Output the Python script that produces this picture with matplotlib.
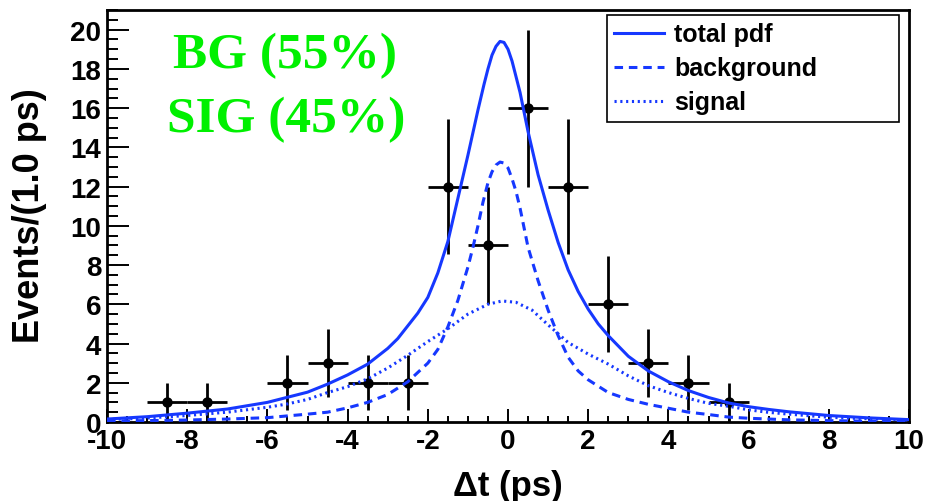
import matplotlib
matplotlib.use("Agg")
import matplotlib.pyplot as plt
from matplotlib.ticker import MultipleLocator

plt.rcParams["axes.unicode_minus"] = False

# binned data (1 ps bins), empty bins left out
bin_centers = [-8.5, -7.5, -5.5, -4.5, -3.5, -2.5, -1.5, -0.5, 0.5, 1.5, 2.5, 3.5, 4.5, 5.5]
counts = [1, 1, 2, 3, 2, 2, 12, 9, 16, 12, 6, 3, 2, 1]
count_err = [1.0, 1.0, 1.41, 1.73, 1.41, 1.41, 3.46, 3.0, 4.0, 3.46, 2.45, 1.73, 1.41, 1.0]

# fitted curves
t_total = [-10, -9, -8, -7, -6, -5, -4.5, -4, -3.5, -3, -2.75, -2.5, -2.25, -2, -1.75, -1.5,
           -1.25, -1.0, -0.75, -0.6, -0.5, -0.4, -0.3, -0.2, -0.1, 0.0, 0.1, 0.2, 0.3, 0.5,
           0.75, 1.0, 1.25, 1.5, 1.75, 2.0, 2.25, 2.5, 3.0, 3.5, 4.0, 4.5, 5.0, 5.5, 6.0,
           6.5, 7.0, 8.0, 9.0, 10.0]
total_pdf = [0.15, 0.27, 0.45, 0.66, 1.0, 1.52, 1.93, 2.4, 2.95, 3.75, 4.25, 4.9, 5.55, 6.35, 7.6, 9.2,
             11.4, 13.6, 15.9, 17.2, 18.0, 18.7, 19.15, 19.4, 19.35, 19.0, 18.4, 17.6, 16.8, 14.8,
             12.6, 10.8, 9.15, 7.75, 6.65, 5.75, 5.0, 4.4, 3.35, 2.6, 2.05, 1.6, 1.25, 0.97, 0.78,
             0.64, 0.52, 0.33, 0.21, 0.12]

t_bkg = [-10, -9, -8, -7, -6, -5, -4.5, -4, -3.5, -3, -2.5, -2, -1.75, -1.5, -1.25, -1.0,
         -0.875, -0.75, -0.625, -0.5, -0.4, -0.3, -0.2, -0.1, 0.0, 0.1, 0.2, 0.3, 0.5, 0.75,
         1.0, 1.25, 1.5, 1.75, 2.0, 2.5, 3.0, 3.5, 4.0, 4.5, 5.0, 5.5, 6.0, 6.5, 7.0, 8.0,
         9.0, 10.0]
background = [0.05, 0.07, 0.1, 0.15, 0.22, 0.4, 0.5, 0.72, 1.0, 1.4, 2.05, 3.0, 3.7, 4.85, 6.2, 7.9,
              8.9, 10.0, 11.2, 12.2, 12.75, 13.1, 13.25, 13.2, 12.95, 12.4, 11.75, 10.9, 8.9, 7.2,
              5.7, 4.4, 3.3, 2.6, 2.15, 1.5, 1.15, 0.9, 0.7, 0.5, 0.38, 0.25, 0.19, 0.15, 0.11, 0.07,
              0.04, 0.03]

t_sig = [-10, -9, -8, -7, -6, -5.5, -5, -4.5, -4, -3.5, -3, -2.5, -2, -1.5, -1.0, -0.5,
         -0.15, 0.2, 0.6, 1.0, 1.5, 2.0, 2.5, 3.0, 3.5, 4.0, 4.5, 5.0, 5.5, 6.0, 6.5,
         7.0, 8.0, 9.0, 10.0]
signal = [0.12, 0.2, 0.33, 0.5, 0.75, 0.92, 1.15, 1.5, 1.8, 2.2, 2.75, 3.4, 4.1, 4.75, 5.5, 6.0,
          6.17, 6.1, 5.7, 4.95, 4.05, 3.46, 2.95, 2.35, 1.85, 1.5, 1.2, 0.95, 0.8, 0.62, 0.49,
          0.4, 0.24, 0.16, 0.1]

blue = "#1638ff"
green = "#00f000"
sans = ["Liberation Sans", "DejaVu Sans"]
serif = ["Liberation Serif", "DejaVu Serif"]

fig = plt.figure(figsize=(9.29, 5.02), dpi=100)
ax = fig.add_axes([0.1152, 0.1574, 0.8633, 0.8206])

ax.errorbar(bin_centers, counts, yerr=count_err, xerr=0.5, fmt="o", color="black",
            markersize=6.5, elinewidth=2, capsize=0, zorder=3)

l1, = ax.plot(t_total, total_pdf, color=blue, lw=2.2, zorder=4, label="total pdf")
l2, = ax.plot(t_bkg, background, color=blue, lw=2.2, ls=(0, (2.8, 1.9)), zorder=4,
              label="background")
l3, = ax.plot(t_sig, signal, color=blue, lw=2.2, ls=(0, (0.7, 1.2)), zorder=4,
              label="signal")

ax.set_xlim(-10, 10)
ax.set_ylim(0, 21)

ax.xaxis.set_major_locator(MultipleLocator(2))
ax.xaxis.set_minor_locator(MultipleLocator(0.5))
ax.yaxis.set_major_locator(MultipleLocator(2))
ax.yaxis.set_minor_locator(MultipleLocator(0.5))
ax.tick_params(axis="y", which="major", direction="in", length=15.8, width=1.4, pad=4)
ax.tick_params(axis="y", which="minor", direction="in", length=7.9, width=1.4)
ax.tick_params(axis="x", which="major", direction="in", length=9.4, width=1.4, pad=4)
ax.tick_params(axis="x", which="minor", direction="in", length=4.3, width=1.4)
for lab in ax.get_xticklabels() + ax.get_yticklabels():
    lab.set_fontfamily(sans)
    lab.set_fontweight("bold")
    lab.set_fontsize(20)
for sp in ax.spines.values():
    sp.set_linewidth(2)

fig.text(30 / 929, 1 - 216 / 502, "Events/(1.0 ps)", rotation=90, ha="center", va="center",
         fontsize=26, fontweight="bold", family=sans)
fig.text(508 / 929, 1 - 487 / 502, "\u0394t (ps)", ha="center", va="center",
         fontsize=25, fontweight="bold", family=sans)

ax.text(0.2225, 0.8915, "BG (55%)", transform=ax.transAxes, ha="center", va="center",
        color=green, fontsize=37, fontweight="bold", family=serif)
ax.text(0.2235, 0.735, "SIG (45%)", transform=ax.transAxes, ha="center", va="center",
        color=green, fontsize=37, fontweight="bold", family=serif)

leg = ax.legend(handles=[l1, l2, l3], loc="upper left", bbox_to_anchor=(0.623, 0.988, 0.3645, 0.0),
                mode="expand", borderaxespad=0, fancybox=False, framealpha=1,
                edgecolor="black", handlelength=2.0, handletextpad=0.4, labelspacing=0.4,
                borderpad=0.3, prop={"family": sans, "weight": "bold", "size": 18})
leg.get_frame().set_linewidth(1.2)

fig.savefig("out.png", dpi=100)
